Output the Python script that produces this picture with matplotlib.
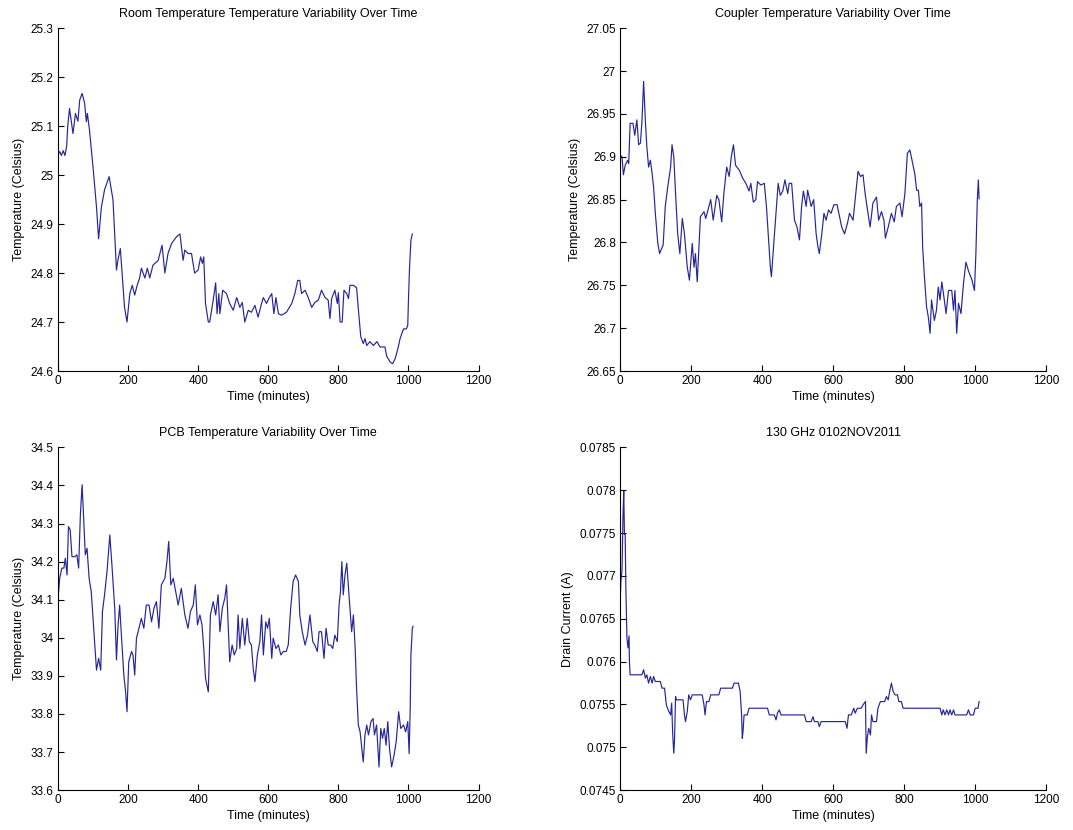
import numpy as np
import matplotlib
matplotlib.use("Agg")
import matplotlib.pyplot as plt
from matplotlib.ticker import FuncFormatter

plt.rcParams['font.family'] = ['Liberation Sans', 'DejaVu Sans']

# ---- Room temperature (deg C) ----
room_t = [0, 5, 10, 15, 20, 25, 28, 33, 43, 50, 57, 62, 69, 76, 81, 84, 90, 100, 110, 116,
          124, 133, 146, 157, 167, 171, 178, 186, 190, 197, 205, 212, 219, 226, 233, 238, 248,
          255, 262, 271, 286, 297, 305, 314, 324, 338, 348, 357, 362, 371, 381, 390, 400, 407,
          412, 416, 421, 429, 433, 443, 450, 454, 459, 462, 470, 481, 490, 500, 510, 519, 526,
          533, 543, 552, 562, 571, 581, 586, 595, 603, 610, 616, 622, 629, 638, 652, 667, 676,
          684, 690, 695, 705, 714, 724, 733, 743, 752, 762, 771, 776, 781, 790, 797, 800, 805,
          811, 816, 824, 829, 833, 843, 852, 859, 864, 871, 876, 881, 890, 900, 910, 919, 933,
          938, 948, 955, 962, 971, 976, 986, 994, 998, 1000, 1003, 1007, 1011]
room_v = [25.041, 25.048, 25.040, 25.050, 25.040, 25.060, 25.100, 25.136, 25.085, 25.126,
          25.110, 25.153, 25.167, 25.147, 25.109, 25.126, 25.092, 25.017, 24.935, 24.870,
          24.935, 24.970, 24.997, 24.950, 24.806, 24.826, 24.850, 24.770, 24.730, 24.700,
          24.758, 24.775, 24.755, 24.775, 24.790, 24.810, 24.790, 24.810, 24.790, 24.816,
          24.826, 24.857, 24.800, 24.840, 24.860, 24.874, 24.880, 24.826, 24.847, 24.840,
          24.840, 24.800, 24.806, 24.833, 24.820, 24.833, 24.738, 24.700, 24.700, 24.745,
          24.780, 24.717, 24.758, 24.717, 24.765, 24.758, 24.738, 24.724, 24.750, 24.730,
          24.740, 24.700, 24.724, 24.720, 24.734, 24.710, 24.738, 24.750, 24.738, 24.750,
          24.758, 24.717, 24.750, 24.717, 24.714, 24.720, 24.738, 24.758, 24.785, 24.785,
          24.758, 24.765, 24.750, 24.730, 24.740, 24.745, 24.765, 24.750, 24.745, 24.707,
          24.748, 24.765, 24.738, 24.760, 24.700, 24.700, 24.765, 24.758, 24.748, 24.775,
          24.775, 24.770, 24.710, 24.670, 24.656, 24.666, 24.652, 24.660, 24.652, 24.660,
          24.649, 24.649, 24.630, 24.618, 24.615, 24.625, 24.649, 24.666, 24.686, 24.686,
          24.693, 24.745, 24.810, 24.867, 24.880]

# ---- Coupler temperature (deg C) ----
coup_t = [0, 5, 9, 14, 21, 24, 28, 36, 41, 47, 52, 57, 61, 66, 71, 75, 80, 85, 90, 94, 99,
          106, 111, 121, 127, 134, 142, 146, 151, 156, 162, 168, 175, 181, 189, 195, 203, 208,
          212, 217, 222, 226, 236, 241, 250, 255, 262, 272, 278, 286, 292, 300, 307, 313, 319,
          325, 336, 345, 354, 363, 368, 375, 382, 387, 396, 406, 412, 417, 423, 426, 432, 439,
          445, 451, 458, 464, 472, 476, 483, 491, 498, 505, 511, 516, 524, 528, 538, 545, 552,
          557, 561, 568, 574, 580, 587, 594, 602, 611, 618, 624, 632, 640, 646, 656, 662, 670,
          677, 684, 690, 698, 704, 712, 722, 728, 736, 743, 747, 755, 764, 772, 778, 788, 794,
          802, 809, 816, 822, 830, 835, 840, 844, 849, 852, 857, 863, 868, 873, 877, 885, 891,
          896, 901, 906, 913, 918, 925, 934, 939, 943, 948, 953, 960, 967, 974, 981, 991, 998,
          1002, 1006, 1009, 1011]
coup_v = [26.902, 26.900, 26.879, 26.890, 26.896, 26.892, 26.939, 26.939, 26.925, 26.943,
          26.914, 26.916, 26.939, 26.988, 26.941, 26.912, 26.888, 26.896, 26.880, 26.865,
          26.834, 26.799, 26.787, 26.797, 26.842, 26.865, 26.888, 26.914, 26.900, 26.857,
          26.810, 26.787, 26.828, 26.810, 26.771, 26.756, 26.799, 26.771, 26.787, 26.754,
          26.795, 26.830, 26.836, 26.828, 26.842, 26.850, 26.826, 26.855, 26.850, 26.824,
          26.857, 26.888, 26.877, 26.900, 26.914, 26.890, 26.884, 26.875, 26.869, 26.860,
          26.869, 26.847, 26.850, 26.871, 26.867, 26.869, 26.842, 26.810, 26.771, 26.760,
          26.795, 26.834, 26.869, 26.855, 26.860, 26.873, 26.857, 26.869, 26.869, 26.826,
          26.818, 26.803, 26.842, 26.860, 26.842, 26.861, 26.842, 26.850, 26.810, 26.795,
          26.787, 26.810, 26.834, 26.826, 26.838, 26.834, 26.844, 26.844, 26.830, 26.818,
          26.810, 26.822, 26.834, 26.826, 26.850, 26.883, 26.877, 26.879, 26.857, 26.834,
          26.818, 26.846, 26.853, 26.826, 26.836, 26.826, 26.805, 26.818, 26.834, 26.824,
          26.842, 26.846, 26.830, 26.857, 26.904, 26.908, 26.896, 26.880, 26.861, 26.861,
          26.842, 26.846, 26.795, 26.760, 26.725, 26.713, 26.694, 26.733, 26.709, 26.721,
          26.748, 26.733, 26.754, 26.733, 26.717, 26.744, 26.744, 26.721, 26.744, 26.694,
          26.729, 26.717, 26.752, 26.777, 26.767, 26.756, 26.744, 26.787, 26.850, 26.873,
          26.851]

# ---- PCB temperature (deg C) ----
pcb_t = [0, 5, 11, 17, 21, 26, 30, 35, 40, 48, 54, 59, 64, 69, 73, 78, 83, 89, 95, 102, 110,
         116, 122, 127, 133, 140, 148, 154, 162, 167, 171, 176, 181, 188, 193, 197, 202, 210,
         214, 219, 224, 231, 238, 245, 252, 260, 267, 274, 281, 288, 295, 305, 311, 316, 322,
         329, 336, 343, 352, 362, 371, 378, 386, 392, 398, 405, 411, 416, 421, 429, 435, 443,
         450, 457, 462, 469, 476, 481, 486, 490, 497, 503, 510, 514, 519, 526, 533, 540, 546,
         552, 557, 562, 569, 576, 581, 586, 593, 598, 603, 610, 614, 622, 629, 636, 643, 651,
         657, 664, 671, 678, 686, 690, 697, 705, 712, 719, 727, 733, 740, 745, 752, 759, 765,
         771, 778, 784, 790, 797, 802, 806, 810, 814, 819, 824, 829, 833, 838, 843, 848, 852,
         857, 862, 867, 871, 876, 881, 886, 893, 899, 903, 909, 916, 921, 926, 931, 936, 941,
         946, 952, 959, 965, 972, 978, 986, 992, 998, 1002, 1005, 1007, 1011, 1013]
pcb_v = [34.100, 34.156, 34.183, 34.183, 34.209, 34.165, 34.292, 34.283, 34.213, 34.213,
         34.218, 34.183, 34.323, 34.402, 34.323, 34.218, 34.235, 34.156, 34.121, 34.025,
         33.915, 33.946, 33.915, 34.069, 34.113, 34.174, 34.270, 34.191, 34.078, 33.942,
         34.025, 34.086, 34.007, 33.902, 33.858, 33.806, 33.937, 33.964, 33.955, 33.902,
         33.999, 34.025, 34.051, 34.025, 34.086, 34.086, 34.042, 34.078, 34.095, 34.025,
         34.139, 34.156, 34.200, 34.253, 34.139, 34.156, 34.121, 34.086, 34.130, 34.060,
         34.025, 34.069, 34.086, 34.139, 34.034, 34.060, 34.034, 33.972, 33.894, 33.858,
         34.060, 34.095, 34.060, 34.113, 34.016, 34.078, 34.104, 34.139, 34.025, 33.937,
         33.981, 33.955, 33.972, 34.060, 33.972, 34.051, 33.981, 34.051, 33.990, 33.981,
         33.920, 33.885, 33.955, 33.990, 34.060, 33.955, 34.042, 34.025, 34.051, 33.946,
         33.999, 33.972, 33.981, 33.955, 33.964, 33.964, 33.981, 34.078, 34.148, 34.165,
         34.148, 34.060, 34.016, 33.981, 34.007, 34.060, 33.990, 33.981, 33.964, 34.016,
         34.016, 33.946, 34.025, 33.981, 33.981, 33.972, 34.007, 33.990, 34.086, 34.121,
         34.200, 34.113, 34.165, 34.196, 34.130, 34.078, 34.016, 34.060, 33.972, 33.867,
         33.771, 33.753, 33.709, 33.674, 33.745, 33.771, 33.745, 33.780, 33.788, 33.745,
         33.771, 33.661, 33.762, 33.736, 33.762, 33.718, 33.780, 33.709, 33.661, 33.692,
         33.727, 33.806, 33.762, 33.771, 33.753, 33.780, 33.696, 33.815, 33.955, 34.025,
         34.030]

# ---- Drain current (A) ----
drain_t = [0, 2, 5, 8, 10, 12, 14, 16, 19, 22, 25, 26, 28, 61, 66, 71, 75, 80, 85, 90, 94,
           99, 113, 118, 125, 130, 135, 142, 145, 148, 151, 153, 156, 158, 177, 181, 184, 189,
           193, 198, 203, 231, 236, 239, 243, 250, 255, 278, 283, 316, 321, 333, 338, 342, 344,
           346, 349, 358, 363, 415, 420, 434, 439, 443, 448, 453, 519, 524, 538, 543, 547, 557,
           561, 566, 634, 639, 643, 651, 658, 662, 668, 679, 684, 691, 693, 696, 700, 705, 708,
           712, 722, 726, 733, 745, 750, 755, 759, 764, 769, 774, 781, 785, 792, 797, 901, 906,
           910, 915, 920, 925, 929, 934, 939, 943, 976, 981, 986, 995, 1000, 1008, 1011]
drain_v = [0.076705, 0.076940, 0.077056, 0.077720, 0.077990, 0.077485, 0.077485, 0.076860,
           0.076276, 0.076160, 0.076300, 0.076000, 0.075846, 0.075846, 0.075905, 0.075807,
           0.075846, 0.075749, 0.075827, 0.075749, 0.075827, 0.075768, 0.075768, 0.075690,
           0.075690, 0.075495, 0.075437, 0.075378, 0.075515, 0.075144, 0.074930, 0.075085,
           0.075593, 0.075554, 0.075554, 0.075378, 0.075300, 0.075417, 0.075612, 0.075554,
           0.075612, 0.075612, 0.075495, 0.075378, 0.075534, 0.075534, 0.075612, 0.075612,
           0.075690, 0.075690, 0.075749, 0.075749, 0.075651, 0.075378, 0.075105, 0.075183,
           0.075378, 0.075378, 0.075456, 0.075456, 0.075378, 0.075378, 0.075320, 0.075398,
           0.075437, 0.075378, 0.075378, 0.075300, 0.075300, 0.075358, 0.075300, 0.075300,
           0.075241, 0.075300, 0.075300, 0.075222, 0.075378, 0.075378, 0.075456, 0.075398,
           0.075456, 0.075456, 0.075495, 0.075534, 0.074930, 0.075105, 0.075222, 0.075144,
           0.075378, 0.075300, 0.075300, 0.075456, 0.075534, 0.075534, 0.075593, 0.075554,
           0.075651, 0.075749, 0.075651, 0.075612, 0.075612, 0.075534, 0.075534, 0.075456,
           0.075456, 0.075378, 0.075437, 0.075378, 0.075437, 0.075378, 0.075437, 0.075378,
           0.075437, 0.075378, 0.075378, 0.075437, 0.075378, 0.075378, 0.075456, 0.075456,
           0.075534]

x_ticks = [0, 200, 400, 600, 800, 1000, 1200]

LINE = '#25259a'

fig = plt.figure(figsize=(10.73, 8.30), dpi=100, facecolor='white')

panels = [
    dict(rect=[0.054, 0.553, 0.392, 0.413], t=room_t, v=room_v,
         ylim=(24.6, 25.3), yticks=np.round(np.arange(24.6, 25.31, 0.1), 2),
         title='Room Temperature Temperature Variability Over Time',
         ylabel='Temperature (Celsius)'),
    dict(rect=[0.578, 0.553, 0.397, 0.413], t=coup_t, v=coup_v,
         ylim=(26.65, 27.05), yticks=np.round(np.arange(26.65, 27.051, 0.05), 2),
         title='Coupler Temperature Variability Over Time',
         ylabel='Temperature (Celsius)'),
    dict(rect=[0.054, 0.048, 0.392, 0.413], t=pcb_t, v=pcb_v,
         ylim=(33.6, 34.5), yticks=np.round(np.arange(33.6, 34.51, 0.1), 2),
         title='PCB Temperature Variability Over Time',
         ylabel='Temperature (Celsius)'),
    dict(rect=[0.578, 0.048, 0.397, 0.413], t=drain_t, v=drain_v,
         ylim=(0.0745, 0.0785), yticks=np.round(np.arange(0.0745, 0.07851, 0.0005), 5),
         title='130 GHz 0102NOV2011',
         ylabel='Drain Current (A)'),
]

fmt = FuncFormatter(lambda val, pos: '%g' % round(val, 6))

for p in panels:
    ax = fig.add_axes(p['rect'])
    ax.plot(p['t'], p['v'], color=LINE, linewidth=0.85)
    ax.set_xlim(0, 1200)
    ax.set_ylim(*p['ylim'])
    ax.set_xticks(x_ticks)
    ax.set_yticks(p['yticks'])
    ax.yaxis.set_major_formatter(fmt)
    ax.spines['top'].set_visible(False)
    ax.spines['right'].set_visible(False)
    for s in ('left', 'bottom'):
        ax.spines[s].set_linewidth(0.8)
    ax.tick_params(direction='in', length=4, width=0.8, labelsize=8.5, pad=3)
    ax.set_title(p['title'], fontsize=9, pad=8)
    ax.set_xlabel('Time (minutes)', fontsize=9, labelpad=3)
    ax.set_ylabel(p['ylabel'], fontsize=9, labelpad=4)

fig.savefig('out.png', dpi=100, facecolor='white')
